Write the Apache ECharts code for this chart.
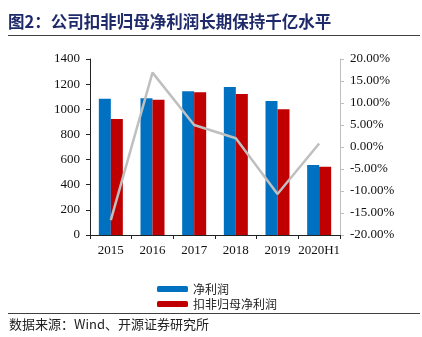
<!DOCTYPE html>
<html>
<head>
<meta charset="utf-8">
<script src="https://cdn.jsdelivr.net/npm/echarts@6/dist/echarts.min.js"></script>
<style>
  html, body { margin: 0; padding: 0; background: #fff; }
  #chart { width: 422px; height: 337px; }
</style>
</head>
<body>
<div id="chart"></div>
<script>
// Annual profit figures (亿元) and year-on-year growth of deducted net profit (%)
const categories = ['2015', '2016', '2017', '2018', '2019', '2020H1'];
const netProfit = [1084, 1087, 1143, 1177, 1066, 557];
const deductedNetProfit = [923, 1076, 1135, 1122, 1000, 543];
const growthRate = [-16.6, 16.9, 5.0, 2.0, -10.7, 0.8];

const leftTicks = { min: 0, max: 1400, interval: 200 };
const rightTicks = { min: -20, max: 20, interval: 5 };

const serif = 'Liberation Serif';
const cjk = 'Noto Sans CJK SC';

const chart = echarts.init(document.getElementById('chart'), null, { renderer: 'canvas' });

chart.setOption({
  animation: false,
  backgroundColor: '#ffffff',
  graphic: [
    {
      type: 'text', left: 8, top: 13,
      style: {
        text: '图2：公司扣非归母净利润长期保持千亿水平',
        font: 'bold 16.5px "Noto Sans CJK SC"',
        fill: '#1f2a6b'
      }
    },
    { type: 'line', shape: { x1: 8, y1: 35.5, x2: 420, y2: 35.5 }, style: { stroke: '#404040', lineWidth: 1 } },
    { type: 'line', shape: { x1: 8, y1: 313.5, x2: 420, y2: 313.5 }, style: { stroke: '#404040', lineWidth: 1 } },
    {
      type: 'text', left: 9, top: 318,
      style: {
        text: '数据来源：Wind、开源证券研究所',
        font: '13px "Noto Sans CJK SC"',
        fill: '#222222'
      }
    }
  ],
  legend: {
    orient: 'vertical',
    left: 152,
    top: 278,
    itemWidth: 31,
    itemHeight: 6,
    itemGap: 3,
    textStyle: { fontFamily: cjk, fontSize: 12, color: '#222' },
    data: ['净利润', '扣非归母净利润']
  },
  grid: { left: 90, right: 82, top: 59, bottom: 102 },
  xAxis: {
    type: 'category',
    data: categories,
    axisLine: { lineStyle: { color: '#222', width: 1 } },
    axisTick: { show: true, alignWithLabel: false, length: 4, lineStyle: { color: '#222' } },
    axisLabel: { interval: 0, fontFamily: serif, fontSize: 13, color: '#111', margin: 9 }
  },
  yAxis: [
    {
      type: 'value',
      min: leftTicks.min, max: leftTicks.max, interval: leftTicks.interval,
      splitLine: { show: false },
      axisLine: { show: true, lineStyle: { color: '#222' } },
      axisTick: { show: true, length: 4, lineStyle: { color: '#222' } },
      axisLabel: {
        fontFamily: serif, fontSize: 13, color: '#111', margin: 10,
        formatter: v => String(v)
      }
    },
    {
      type: 'value',
      min: rightTicks.min, max: rightTicks.max, interval: rightTicks.interval,
      splitLine: { show: false },
      axisLine: { show: true, lineStyle: { color: '#bfbfbf' } },
      axisTick: { show: true, length: 4, lineStyle: { color: '#bfbfbf' } },
      axisLabel: {
        fontFamily: serif, fontSize: 13, color: '#111', margin: 10,
        formatter: v => v.toFixed(2) + '%'
      }
    }
  ],
  series: [
    {
      name: '净利润', type: 'bar', data: netProfit,
      barWidth: 12, barGap: '0%',
      itemStyle: { color: '#0070c0' }
    },
    {
      name: '扣非归母净利润', type: 'bar', data: deductedNetProfit,
      barWidth: 12,
      itemStyle: { color: '#c00000' }
    },
    {
      name: '增速', type: 'line', yAxisIndex: 1, data: growthRate,
      symbol: 'none',
      lineStyle: { color: '#bfbfbf', width: 2.5 },
      z: 5
    }
  ]
});
</script>
</body>
</html>
